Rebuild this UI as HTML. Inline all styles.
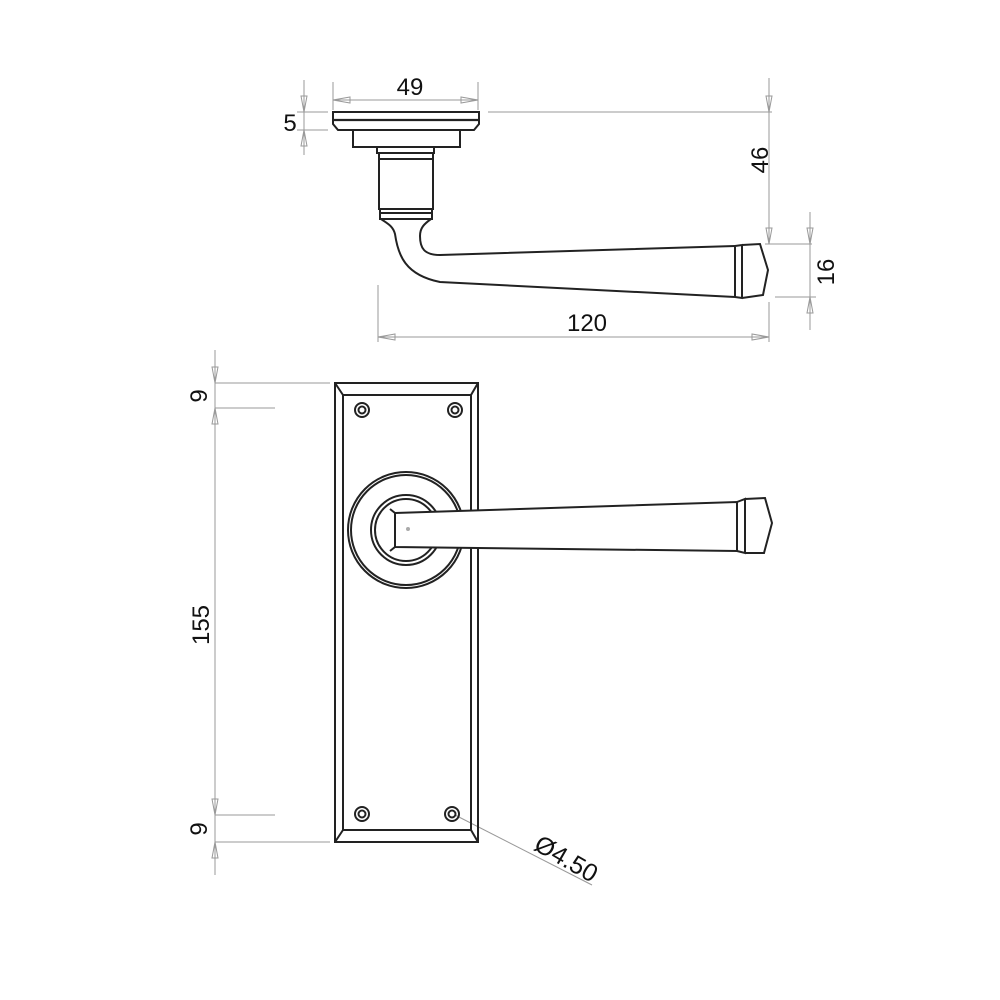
<!DOCTYPE html>
<html><head><style>body{margin:0;background:#fff}svg{display:block}text{font-family:"Liberation Sans",sans-serif;font-size:24px;fill:#111}</style></head>
<body>
<svg width="1000" height="1000" viewBox="0 0 1000 1000" xmlns="http://www.w3.org/2000/svg">
<g fill="none" stroke="#999" stroke-width="1">
<line x1="333" y1="82" x2="333" y2="110"/><line x1="478" y1="82" x2="478" y2="110"/>
<line x1="333" y1="100" x2="478" y2="100"/>
<path d="M333 100 L350 97 L350 103 Z M478 100 L461 97 L461 103 Z"/>
<line x1="297" y1="112" x2="328" y2="112"/><line x1="297" y1="130" x2="328" y2="130"/>
<line x1="304" y1="80" x2="304" y2="155"/>
<path d="M304 112 L301 96 L307 96 Z M304 130 L301 146 L307 146 Z"/>
<line x1="488" y1="112" x2="772" y2="112"/><line x1="769" y1="78" x2="769" y2="244"/>
<line x1="765" y1="244" x2="812" y2="244"/>
<path d="M769 112 L766 96 L772 96 Z M769 244 L766 228 L772 228 Z"/>
<line x1="810" y1="212" x2="810" y2="330"/><line x1="775" y1="297" x2="816" y2="297"/>
<path d="M810 244 L807 228 L813 228 Z M810 297 L807 313 L813 313 Z"/>
<line x1="378" y1="285" x2="378" y2="342"/><line x1="769" y1="302" x2="769" y2="342"/>
<line x1="378" y1="337" x2="769" y2="337"/>
<path d="M378 337 L395 334 L395 340 Z M769 337 L752 334 L752 340 Z"/>
<line x1="215" y1="350" x2="215" y2="875"/>
<line x1="215" y1="383" x2="330" y2="383"/><line x1="215" y1="408" x2="275" y2="408"/>
<line x1="215" y1="815" x2="275" y2="815"/><line x1="215" y1="842" x2="330" y2="842"/>
<path d="M215 383 L212 367 L218 367 Z M215 408 L212 424 L218 424 Z M215 815 L212 799 L218 799 Z M215 842 L212 858 L218 858 Z"/>
<line x1="455" y1="815" x2="592" y2="885"/>
</g>
<text x="410" y="95" text-anchor="middle">49</text>
<text x="290" y="131" text-anchor="middle">5</text>
<text transform="translate(768,160) rotate(-90)" text-anchor="middle">46</text>
<text transform="translate(834,272) rotate(-90)" text-anchor="middle">16</text>
<text x="587" y="331" text-anchor="middle">120</text>
<text transform="translate(207,396) rotate(-90)" text-anchor="middle">9</text>
<text transform="translate(209,625) rotate(-90)" text-anchor="middle">155</text>
<text transform="translate(207,829) rotate(-90)" text-anchor="middle">9</text>
<text transform="translate(562,866) rotate(30)" text-anchor="middle" style="font-size:25px">Ø4.50</text>

<g fill="none" stroke="#222" stroke-width="2">
<path d="M333 112 L479 112 L479 124 L474 130 L338 130 L333 124 Z"/>
<line x1="334" y1="120" x2="478" y2="120" stroke-width="2.2"/>
<rect x="353" y="130" width="107" height="17"/>
<rect x="377" y="147" width="57" height="6"/>
<rect x="379" y="153" width="54" height="56"/>
<line x1="379" y1="159" x2="433" y2="159"/>
<rect x="380" y="209" width="52" height="10"/>
<line x1="380" y1="213" x2="432" y2="213"/>
<path d="M381 219 C388 224 393 226 395 234 C398 255 405 275 440 282 L735 297"/>
<path d="M431 219 C424 224 420 228 420 236 C420 248 424 255 440 255 L735 246"/>
<path d="M735 246 L735 297 M735 246 L742 245 L742 298 L735 297 M742 245 L760 244 L768 270 L763 295 L742 298"/>
<rect x="335" y="383" width="143" height="459"/>
<rect x="343" y="395" width="128" height="435"/>
<line x1="335" y1="383" x2="343" y2="395"/><line x1="478" y1="383" x2="471" y2="395"/>
<line x1="335" y1="842" x2="343" y2="830"/><line x1="478" y1="842" x2="471" y2="830"/>
<circle cx="362" cy="410" r="7"/><circle cx="362" cy="410" r="3.5"/>
<circle cx="455" cy="410" r="7"/><circle cx="455" cy="410" r="3.5"/>
<circle cx="362" cy="814" r="7"/><circle cx="362" cy="814" r="3.5"/>
<circle cx="452" cy="814" r="7"/><circle cx="452" cy="814" r="3.5"/>
<circle cx="406" cy="530" r="58" fill="#fff"/><circle cx="406" cy="530" r="55"/>
<circle cx="406" cy="530" r="35"/><circle cx="406" cy="530" r="31"/>
<path d="M395 513 L737 502 L737 551 L395 547 Z" fill="#fff"/>
<path d="M390 509 L395 513 M390 551 L395 547"/>
<path d="M737 502 L745 499 L745 553 L737 551 M745 499 L765 498 L772 523 L764 553 L745 553"/>
</g>
<circle cx="408" cy="529" r="2" fill="#aaa"/>
</svg>
</body></html>
